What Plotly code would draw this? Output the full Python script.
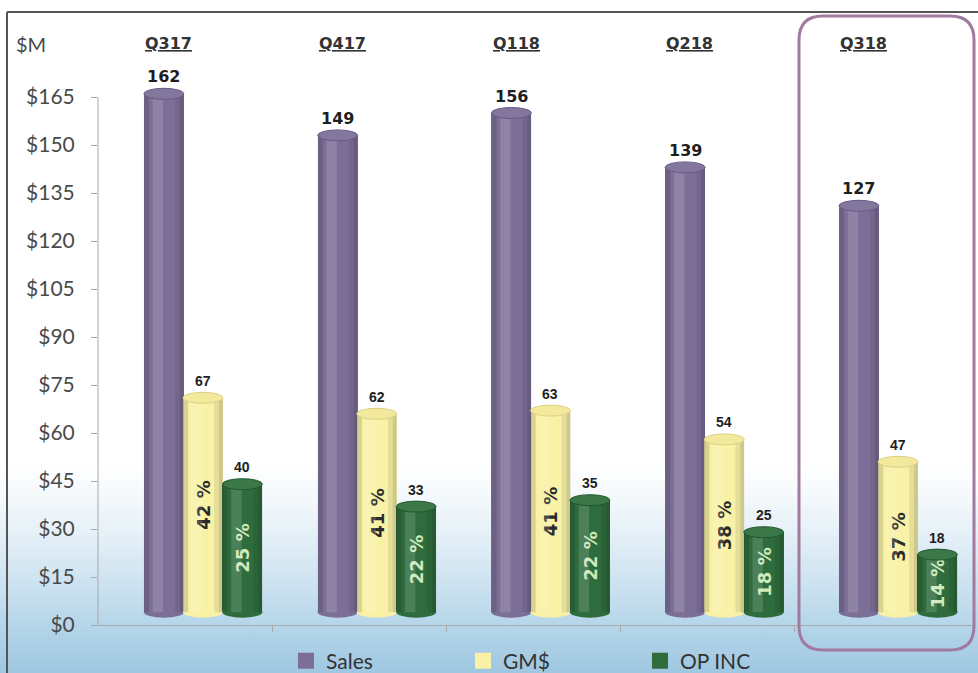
import plotly.graph_objects as go

# ---- data -------------------------------------------------------------
quarters = ["Q317", "Q417", "Q118", "Q218", "Q318"]
sales = [162, 149, 156, 139, 127]
gm_dollars = [67, 62, 63, 54, 47]
op_income = [40, 33, 35, 25, 18]
gm_pct = [42, 41, 41, 38, 37]
op_pct = [25, 22, 22, 18, 14]
y_ticks = list(range(0, 166, 15))

# ---- page geometry helpers (pixels -> paper fractions) -----------------
W, H = 978, 673


def px_x(p):
    return p / W


def px_y(p):
    return 1 - p / H


BAR_W = 0.23
CAP_HALF = 5.5  # half height of the elliptical cylinder caps, px

series = [
    dict(name="Sales", values=sales, pct=None, center=-0.127,
         body="#7c6f97", cap="#84779d", edge="#67598a",
         label_font=dict(family="DejaVu Sans", size=16, color="#1e1e1e"),
         pct_font=None),
    dict(name="GM$", values=gm_dollars, pct=gm_pct, center=0.098,
         body="#f8f1a6", cap="#f2e99c", edge="#ddd184",
         label_font=dict(family="Liberation Sans", size=14, color="#1e1e1e"),
         pct_font=dict(family="DejaVu Sans", size=18, color="#2a2a2a", weight="bold")),
    dict(name="OP INC", values=op_income, pct=op_pct, center=0.325,
         body="#2f6c3d", cap="#3a7848", edge="#24572f",
         label_font=dict(family="Liberation Sans", size=14, color="#1e1e1e"),
         pct_font=dict(family="DejaVu Sans", size=18, color="#cfe9b9", weight="bold")),
]

fig = go.Figure()

# soft blue backdrop fading upward into white
fig.add_trace(go.Scatter(
    x=[0, 1, 1, 0], y=[0, 0, 1, 1], fill="toself", mode="none",
    fillgradient=dict(type="vertical", start=0, stop=1, colorscale=[
        [0.0, "#9fc7e1"], [0.06, "#b1d3e8"], [0.12, "#c8e0ef"],
        [0.2, "#e3eff7"], [0.27, "#f6fafc"], [0.31, "#ffffff"], [1.0, "#ffffff"]]),
    xaxis="x", yaxis="y", showlegend=False, hoverinfo="skip"))

idx = list(range(len(quarters)))
shapes = []
annotations = []

for s in series:
    has_pct = s["pct"] is not None
    fig.add_trace(go.Bar(
        name=s["name"], x=idx, y=s["values"], width=BAR_W,
        offset=s["center"] - BAR_W / 2,
        marker=dict(color=s["body"], line=dict(width=0)),
        text=[f"{p} %" for p in s["pct"]] if has_pct else None,
        textposition="inside" if has_pct else "none",
        insidetextanchor="middle", textangle=-90,
        textfont=s["pct_font"] if has_pct else None,
        legendgroup=s["name"], showlegend=False,
        xaxis="x2", yaxis="y3", hoverinfo="skip"))
    # legend swatch for the series
    fig.add_trace(go.Scatter(
        name=s["name"], x=[None], y=[None], mode="markers",
        marker=dict(symbol="square", size=16, color=s["body"]),
        legendgroup=s["name"], xaxis="x2", yaxis="y3", hoverinfo="skip"))

    for i, v in zip(idx, s["values"]):
        left = i + s["center"] - BAR_W / 2
        right = left + BAR_W
        # rounded bottom of the cylinder
        shapes.append(dict(type="circle", xref="x2", yref="y3",
                           x0=left, x1=right, ysizemode="pixel", yanchor=0,
                           y0=-CAP_HALF, y1=CAP_HALF,
                           fillcolor=s["body"], line=dict(width=0)))
        # cylinder shading bands
        for a, b, col in [(0.0, 0.13, "rgba(0,0,0,0.12)"),
                          (0.22, 0.48, "rgba(255,255,255,0.14)"),
                          (0.78, 0.90, "rgba(0,0,0,0.08)"),
                          (0.90, 1.0, "rgba(0,0,0,0.17)")]:
            shapes.append(dict(type="rect", xref="x2", yref="y3",
                               x0=left + a * BAR_W, x1=left + b * BAR_W,
                               y0=0, y1=v, fillcolor=col, line=dict(width=0)))
        # top cap
        shapes.append(dict(type="circle", xref="x2", yref="y3",
                           x0=left, x1=right, ysizemode="pixel", yanchor=v,
                           y0=-CAP_HALF, y1=CAP_HALF,
                           fillcolor=s["cap"], line=dict(color=s["edge"], width=1)))
        # value label above the cylinder
        annotations.append(dict(x=i + s["center"], y=v, xref="x2", yref="y3",
                                text=f"<b>{v}</b>", showarrow=False,
                                yanchor="middle", yshift=17,
                                font=s["label_font"]))

# quarter headings
for i, q in zip(idx, quarters):
    annotations.append(dict(x=i - 0.1, y=px_y(43), xref="x2", yref="paper",
                            yanchor="middle",
                            text=f"<b><u>{q}</u></b>", showarrow=False,
                            font=dict(family="DejaVu Sans", size=16, color="#333333")))

annotations.append(dict(x=px_x(14), y=px_y(44), xref="paper", yref="paper",
                        xanchor="left", yanchor="middle", text="$M", showarrow=False,
                        font=dict(family="Lato", size=20, color="#4a4a4a")))

# value axis line (stops at the top tick)
shapes.append(dict(type="line", xref="x2 domain", yref="y2", x0=0, x1=0,
                   y0=0, y1=165, line=dict(color="#a8a8a8", width=1)))

# outer frame
shapes.append(dict(type="line", xref="paper", yref="paper",
                   x0=px_x(7), x1=1, y0=px_y(12), y1=px_y(12),
                   line=dict(color="#555555", width=2)))
shapes.append(dict(type="line", xref="paper", yref="paper",
                   x0=px_x(7), x1=px_x(7), y0=px_y(12), y1=0,
                   line=dict(color="#555555", width=2)))


def rounded_box(x0, y0, x1, y1, r):
    pts = [("M", x0 + r, y0), ("L", x1 - r, y0), ("Q", x1, y0, x1, y0 + r),
           ("L", x1, y1 - r), ("Q", x1, y1, x1 - r, y1), ("L", x0 + r, y1),
           ("Q", x0, y1, x0, y1 - r), ("L", x0, y0 + r), ("Q", x0, y0, x0 + r, y0)]
    out = []
    for p in pts:
        cmd, coords = p[0], p[1:]
        conv = []
        for k in range(0, len(coords), 2):
            conv.append(f"{px_x(coords[k]):.5f},{px_y(coords[k + 1]):.5f}")
        out.append(cmd + " " + " ".join(conv))
    return " ".join(out) + " Z"


# highlight around the latest quarter
shapes.append(dict(type="path", xref="paper", yref="paper",
                   path=rounded_box(799, 16, 974, 650, 24),
                   line=dict(color="#a07b9f", width=3), fillcolor="rgba(0,0,0,0)"))

fig.update_layout(
    width=W, height=H,
    margin=dict(l=0, r=0, t=0, b=0, autoexpand=False),
    paper_bgcolor="white", plot_bgcolor="rgba(0,0,0,0)",
    barmode="overlay", bargap=0,
    xaxis=dict(domain=[0, 1], range=[0, 1], visible=False, fixedrange=True),
    yaxis=dict(domain=[0, 1], range=[0, 1], visible=False, fixedrange=True),
    xaxis2=dict(domain=[px_x(98), px_x(975)], range=[-0.506, 4.541], anchor="y2",
                showline=True, linecolor="#a8a8a8", linewidth=1,
                ticks="outside", tickvals=[0.5, 1.5, 2.5, 3.5], ticklen=6,
                tickcolor="#a8a8a8", showticklabels=False, showgrid=False,
                zeroline=False),
    yaxis2=dict(domain=[1 - 625 / H, 1 - 33 / H], range=[0, 185], anchor="x2",
                tickmode="array", tickvals=y_ticks,
                ticktext=[f"${v}" for v in y_ticks],
                ticks="outside", ticklen=6,
                tickcolor="#a8a8a8", showline=False, showgrid=False, zeroline=False,
                tickfont=dict(family="Lato", size=21, color="#4a4a4a"),
                ticklabelstandoff=12),
    yaxis3=dict(overlaying="y2", anchor="x2", range=[-4, 181], visible=False),
    showlegend=True,
    legend=dict(orientation="h", x=px_x(286), xanchor="left",
                y=px_y(661), yanchor="middle", entrywidth=132,
                itemsizing="trace",
                font=dict(family="Lato", size=21, color="#333333"),
                bgcolor="rgba(0,0,0,0)", itemclick=False, itemdoubleclick=False),
    shapes=shapes, annotations=annotations,
    hovermode=False,
)

fig.write_html("out.html")
